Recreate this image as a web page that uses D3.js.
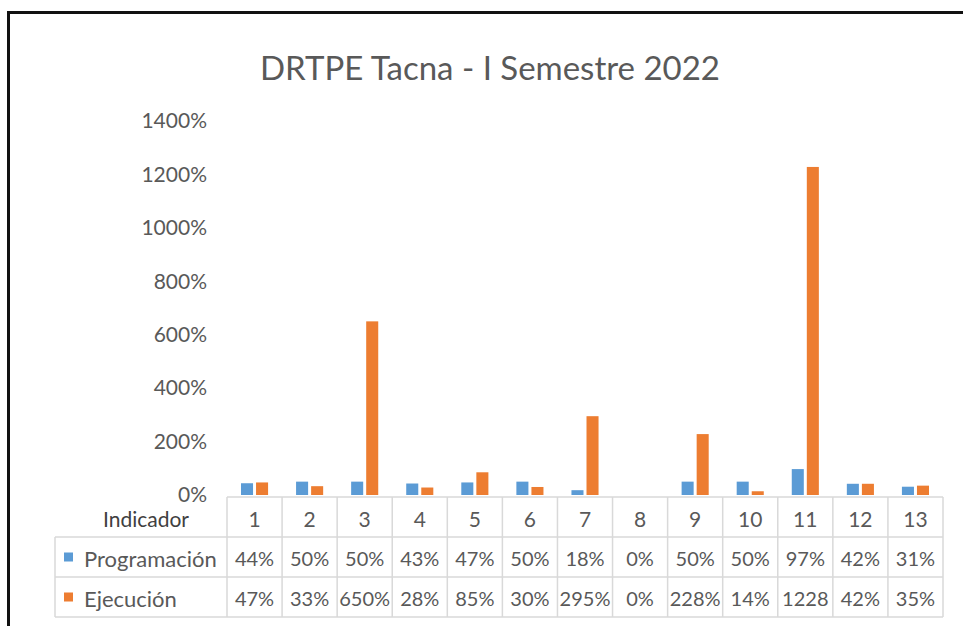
<!DOCTYPE html>
<html>
<head>
<meta charset="utf-8">
<script src="https://cdn.jsdelivr.net/npm/d3@7"></script>
<style>
  html, body { margin: 0; padding: 0; background: #fff; }
  svg { display: block; font-family: Lato, "Open Sans", sans-serif; }
</style>
</head>
<body>
<svg id="chart" width="963" height="626"></svg>
<script>
// données du graphique
const categories = ["1", "2", "3", "4", "5", "6", "7", "8", "9", "10", "11", "12", "13"];
const seriesNames = ["Programación", "Ejecución"];
const programacion = [44, 50, 50, 43, 47, 50, 18, 0, 50, 50, 97, 42, 31];
const ejecucion = [47, 33, 650, 28, 85, 30, 295, 0, 228, 14, 1228, 42, 35];
const yTicks = [0, 200, 400, 600, 800, 1000, 1200, 1400];
const colors = ["#5B9BD5", "#ED7D31"];

const seriesValues = [programacion, ejecucion];

const svg = d3.select("#chart");

// cadre noir (haut et gauche)
svg.append("line").attr("x1", 7).attr("x2", 963).attr("y1", 12.5).attr("y2", 12.5)
  .attr("stroke", "#111").attr("stroke-width", 3);
svg.append("line").attr("x1", 8.5).attr("x2", 8.5).attr("y1", 11).attr("y2", 626)
  .attr("stroke", "#111").attr("stroke-width", 3);

// titre
svg.append("text")
  .attr("x", 490).attr("y", 80)
  .attr("text-anchor", "middle")
  .attr("font-size", 33)
  .attr("fill", "#595959")
  .text("DRTPE Tacna - I Semestre 2022");

// échelles
const x = d3.scaleBand().domain(categories).range([227, 943]).padding(0);
const x1 = d3.scaleBand().domain(seriesNames).range([0, x.bandwidth()])
  .paddingInner(0.2).paddingOuter(0.93);
const y = d3.scaleLinear().domain([0, 1400]).range([495, 121]);

// axe Y (étiquettes seulement)
const yAxis = svg.append("g")
  .attr("transform", "translate(207,0)")
  .call(d3.axisLeft(y).tickValues(yTicks).tickSize(0).tickPadding(0)
    .tickFormat(d => d + "%"));
yAxis.select(".domain").remove();
yAxis.selectAll("text")
  .attr("font-family", "Lato, sans-serif")
  .attr("font-size", 21)
  .attr("fill", "#595959");

// barres
const groups = svg.append("g").selectAll("g")
  .data(categories)
  .join("g")
  .attr("transform", d => `translate(${x(d)},0)`);

groups.selectAll("rect")
  .data((d, i) => seriesNames.map((s, k) => ({ s, k, v: seriesValues[k][i] })))
  .join("rect")
  .attr("x", d => x1(d.s))
  .attr("width", x1.bandwidth())
  .attr("y", d => y(d.v))
  .attr("height", d => y(0) - y(d.v))
  .attr("fill", d => colors[d.k]);

// tableau de données
const rowTop = [497, 537, 577];
const rowH = 40;
const labelLeft = 55;
const tableRight = x.range()[1];
const gridColor = "#d9d9d9";
const table = svg.append("g");

// lignes horizontales
table.append("line").attr("x1", x.range()[0]).attr("x2", tableRight)
  .attr("y1", rowTop[0]).attr("y2", rowTop[0]).attr("stroke", gridColor).attr("stroke-width", 1.5);
[rowTop[1], rowTop[2], rowTop[2] + rowH].forEach(yy => {
  table.append("line").attr("x1", labelLeft).attr("x2", tableRight)
    .attr("y1", yy).attr("y2", yy).attr("stroke", gridColor).attr("stroke-width", 1.5);
});
// lignes verticales
categories.concat(["end"]).forEach((c, i) => {
  const xx = i < categories.length ? x(c) : tableRight;
  table.append("line").attr("x1", xx).attr("x2", xx)
    .attr("y1", rowTop[0]).attr("y2", rowTop[2] + rowH)
    .attr("stroke", gridColor).attr("stroke-width", 1.5);
});
table.append("line").attr("x1", labelLeft).attr("x2", labelLeft)
  .attr("y1", rowTop[1]).attr("y2", rowTop[2] + rowH)
  .attr("stroke", gridColor).attr("stroke-width", 1.5);

// en-tête
table.append("text")
  .attr("x", 146).attr("y", rowTop[0] + rowH / 2 + 1)
  .attr("text-anchor", "middle").attr("dominant-baseline", "central")
  .attr("font-size", 21).attr("fill", "#404040")
  .text("Indicador");

table.selectAll("text.cat")
  .data(categories)
  .join("text")
  .attr("class", "cat")
  .attr("x", d => x(d) + x.bandwidth() / 2)
  .attr("y", rowTop[0] + rowH / 2 + 1)
  .attr("text-anchor", "middle").attr("dominant-baseline", "central")
  .attr("font-size", 21).attr("fill", "#595959")
  .text(d => d);

// lignes des séries
seriesNames.forEach((s, k) => {
  const cy = rowTop[k + 1] + rowH / 2;
  table.append("rect")
    .attr("x", 64).attr("y", cy - 4.5).attr("width", 9).attr("height", 9)
    .attr("fill", colors[k]);
  table.append("text")
    .attr("x", 84).attr("y", cy + 1)
    .attr("dominant-baseline", "central")
    .attr("font-size", 22).attr("fill", "#595959")
    .text(s);

  table.selectAll("text.v" + k)
    .data(seriesValues[k])
    .join("text")
    .attr("class", "v" + k)
    .attr("x", (d, i) => x(categories[i]) + x.bandwidth() / 2)
    .attr("y", cy + 1)
    .attr("text-anchor", "middle").attr("dominant-baseline", "central")
    .attr("font-size", 20).attr("fill", "#595959")
    .text(d => d + "%")
    .each(function () {
      // comme Excel : si le texte déborde de la cellule, on coupe le "%"
      const t = d3.select(this);
      if (this.getComputedTextLength() > x.bandwidth()) {
        t.text(t.text().replace("%", ""));
      }
    });
});
</script>
</body>
</html>
